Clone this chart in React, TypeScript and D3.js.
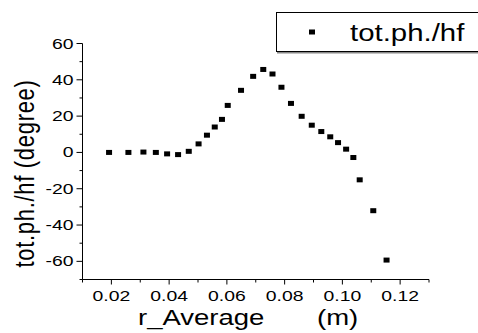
import React from "react";
import * as d3 from "d3";

const rAverage = [
  0.0192, 0.0259, 0.0311, 0.0354, 0.0393, 0.0431, 0.0468, 0.0502, 0.0531, 0.0558,
  0.0583, 0.0603, 0.0649, 0.0691, 0.0726, 0.0758, 0.0789, 0.0822, 0.0859, 0.0894,
  0.0927, 0.0958, 0.0985, 0.1013, 0.1038, 0.106, 0.1107, 0.1153,
];
const totPhHf = [
  0, 0, 0.2, 0, -0.8, -1.2, 0.6, 4.7, 9.5, 14,
  18.2, 25.9, 34.2, 41.9, 45.7, 43.2, 35.9, 27, 19.9, 15,
  11.5, 8.6, 5.4, 1.8, -2.8, -15.1, -32.1, -59.3,
];
const xMajorTicks = [0.02, 0.04, 0.06, 0.08, 0.1, 0.12];
const xMinorTicks = [0.01, 0.03, 0.05, 0.07, 0.09, 0.11, 0.13];
const yMajorTicks = [-60, -40, -20, 0, 20, 40, 60];
const yMinorTicks = [-70, -50, -30, -10, 10, 30, 50];
const seriesName = "tot.ph./hf";
const xTitle = "r_Average";
const xUnit = "(m)";
const yTitle = "tot.ph./hf (degree)";

const FONT = "'Liberation Sans', Arial, sans-serif";
const SX = 1.25; // horizontal stretch of the original picture

function T(props: {
  x: number;
  y: number;
  size: number;
  anchor?: string;
  children: React.ReactNode;
}) {
  return (
    <text
      transform={`translate(${props.x},${props.y}) scale(${SX},1)`}
      textAnchor={props.anchor || "start"}
      fontSize={props.size}
      fill="#000"
    >
      {props.children}
    </text>
  );
}

export default function App() {
  const x = d3.scaleLinear().domain([0.01, 0.13]).range([82.5, 429]);
  const y = d3.scaleLinear().domain([-70, 60]).range([279.5, 43.5]);
  const fmtX = d3.format(".2f");
  const x0 = x.range()[0];
  const yb = y.range()[0];
  const mw = 6;
  const mh = 5;
  return (
    <svg
      width={478}
      height={333}
      style={{ position: "absolute", left: 0, top: 0, background: "#fff" }}
      fontFamily={FONT}
    >
      <rect x={0} y={0} width={478} height={333} fill="#fff" />
      {/* axes lines */}
      <line x1={x0} x2={x0} y1={y(60)} y2={yb} stroke="#000" strokeWidth={1} />
      <line x1={x0} x2={x(0.13)} y1={yb} y2={yb} stroke="#000" strokeWidth={1} />
      {/* y ticks */}
      {yMajorTicks.map((t) => (
        <g key={"ym" + t}>
          <line x1={x0 - 6} x2={x0} y1={y(t)} y2={y(t)} stroke="#000" />
          <T x={73.5} y={y(t) + 5} size={15.5} anchor="end">
            {String(t)}
          </T>
        </g>
      ))}
      {yMinorTicks.map((t) => (
        <line key={"yn" + t} x1={x0 - 3} x2={x0} y1={y(t)} y2={y(t)} stroke="#000" />
      ))}
      {/* x ticks */}
      {xMajorTicks.map((t) => (
        <g key={"xm" + t}>
          <line x1={x(t)} x2={x(t)} y1={yb} y2={yb + 5} stroke="#000" />
          <T x={x(t)} y={yb + 21} size={15.5} anchor="middle">
            {fmtX(t)}
          </T>
        </g>
      ))}
      {xMinorTicks.map((t) => (
        <line key={"xn" + t} x1={x(t)} x2={x(t)} y1={yb} y2={yb + 3} stroke="#000" />
      ))}
      {/* axis titles */}
      <T x={138} y={325} size={22}>
        {xTitle}
      </T>
      <T x={317} y={325} size={22}>
        {xUnit}
      </T>
      <text
        transform={`translate(34,173.5) scale(${SX},1) rotate(-90)`}
        textAnchor="middle"
        fontSize={22}
        letterSpacing={0.7}
      >
        {yTitle}
      </text>
      {/* data */}
      {rAverage.map((r, i) => (
        <rect
          key={i}
          x={x(r) - mw / 2}
          y={y(totPhHf[i]) - mh / 2}
          width={mw}
          height={mh}
          fill="#000"
        />
      ))}
      {/* legend */}
      <line x1={277} x2={478} y1={52.5} y2={52.5} stroke="#888" strokeWidth={2} />
      <rect x={276.5} y={12.5} width={210} height={39} fill="#fff" stroke="#000" strokeWidth={1} />
      <rect x={309} y={29.5} width={mw} height={mh} fill="#000" />
      <T x={350} y={41} size={23.5}>
        {seriesName}
      </T>
    </svg>
  );
}
